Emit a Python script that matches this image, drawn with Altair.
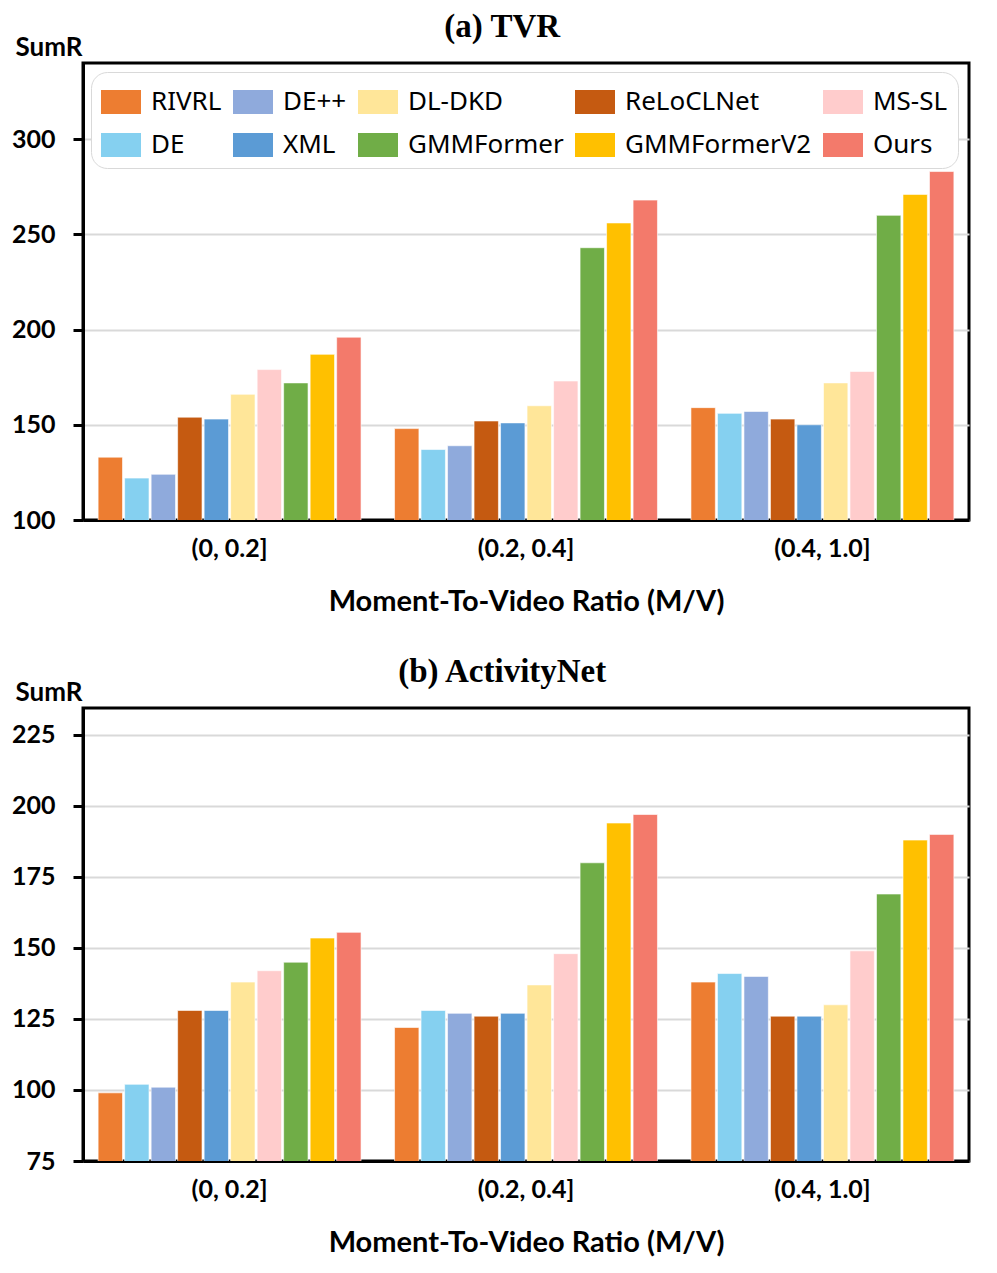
import altair as alt
import pandas as pd

groups = ["(0, 0.2]", "(0.2, 0.4]", "(0.4, 1.0]"]
models = ["RIVRL", "DE", "DE++", "ReLoCLNet", "XML", "DL-DKD", "MS-SL",
          "GMMFormer", "GMMFormerV2", "Ours"]
legend_order = ["RIVRL", "DE++", "DL-DKD", "ReLoCLNet", "MS-SL",
                "DE", "XML", "GMMFormer", "GMMFormerV2", "Ours"]
model_colors = {
    "RIVRL": "#ED7D31", "DE": "#85D0F0", "DE++": "#8FAADC",
    "ReLoCLNet": "#C55A11", "XML": "#5B9BD5", "DL-DKD": "#FFE699",
    "MS-SL": "#FFCCCC", "GMMFormer": "#70AD47", "GMMFormerV2": "#FFC000",
    "Ours": "#F37A6B",
}

# SumR values per model across the three M/V groups
tvr = {
    "RIVRL": [133, 148, 159],
    "DE": [122, 137, 156],
    "DE++": [124, 139, 157],
    "ReLoCLNet": [154, 152, 153],
    "XML": [153, 151, 150],
    "DL-DKD": [166, 160, 172],
    "MS-SL": [179, 173, 178],
    "GMMFormer": [172, 243, 260],
    "GMMFormerV2": [187, 256, 271],
    "Ours": [196, 268, 283],
}
anet = {
    "RIVRL": [99, 122, 138],
    "DE": [102, 128, 141],
    "DE++": [101, 127, 140],
    "ReLoCLNet": [128, 126, 126],
    "XML": [128, 127, 126],
    "DL-DKD": [138, 137, 130],
    "MS-SL": [142, 148, 149],
    "GMMFormer": [145, 180, 169],
    "GMMFormerV2": [153.5, 194, 188],
    "Ours": [155.5, 197, 190],
}

tvr_ticks = [100, 150, 200, 250, 300]
anet_ticks = [75, 100, 125, 150, 175, 200, 225]


def to_df(d):
    rows = []
    for m in models:
        for g, v in zip(groups, d[m]):
            rows.append({"group": g, "model": m, "value": v})
    return pd.DataFrame(rows)


LABEL_FONT = "Lato"
LEG_PATH = "M-1,-0.6L1,-0.6L1,0.6L-1,0.6Z"


def panel(df, title, domain, ticks, height):
    legend = alt.Legend(
        title=None, orient="none", legendX=8, legendY=9, direction="horizontal",
        columns=5, symbolType=LEG_PATH, symbolSize=1600, symbolStrokeWidth=0,
        symbolOpacity=1, labelFont="Noto Sans", labelFontSize=26, labelColor="black",
        labelOffset=10, columnPadding=11, rowPadding=10, padding=10,
        strokeColor="#d9d9d9", fillColor="white", cornerRadius=16,
        labelLimit=400,
    )
    return alt.Chart(df).mark_bar(stroke="white", strokeWidth=0.6, clip=True).encode(
        x=alt.X("group:N", sort=groups,
                scale=alt.Scale(paddingInner=0.113, paddingOuter=0.051),
                axis=alt.Axis(title="Moment-To-Video Ratio (M/V)", labelAngle=0,
                              ticks=False, labelPadding=16, titlePadding=26)),
        xOffset=alt.XOffset("model:N", sort=models,
                            scale=alt.Scale(paddingInner=0.08)),
        y=alt.Y("value:Q", scale=alt.Scale(domain=domain, nice=False, zero=False),
                axis=alt.Axis(values=ticks, title="SumR", titleAngle=0,
                              titleAlign="left", titleBaseline="alphabetic",
                              titleX=-68, titleY=-8, titleFontSize=26,
                              tickSize=10, labelPadding=18)),
        color=alt.Color("model:N",
                        scale=alt.Scale(domain=legend_order,
                                        range=[model_colors[m] for m in legend_order]),
                        legend=legend),
    ).properties(
        width=886, height=height,
        title=alt.TitleParams(text=title, font="Liberation Serif", fontSize=33,
                              fontWeight="bold", color="black", anchor="middle",
                              frame="bounds", offset=-10, dx=12),
    )


top = panel(to_df(tvr), "(a) TVR", [100, 340], tvr_ticks, 457)
bottom = panel(to_df(anet), "(b) ActivityNet", [75, 234.5], anet_ticks, 453)

chart = alt.vconcat(top, bottom, spacing=36).properties(
    padding={"left": 1, "top": 1, "right": 5, "bottom": 5}
).configure_view(
    stroke="black", strokeWidth=3
).configure_axis(
    labelFont=LABEL_FONT, labelFontSize=25, labelFontWeight="bold", labelColor="black",
    titleFont=LABEL_FONT, titleFontSize=29, titleFontWeight="bold", titleColor="black",
    domainColor="black", domainWidth=3, tickColor="black", tickWidth=3,
    gridColor="#d9d9d9", gridWidth=2,
).configure_axisX(grid=False).configure_axisY(grid=True)

chart.save("out.html", embed_options={"renderer": "svg", "actions": False})
